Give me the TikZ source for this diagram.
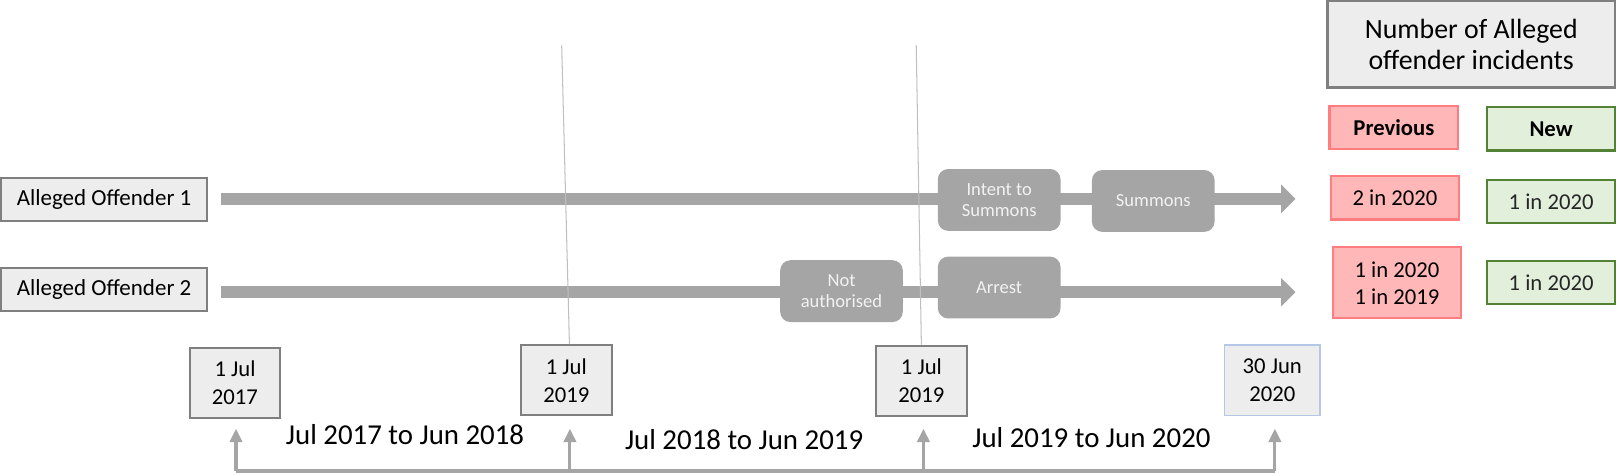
\documentclass[tikz,border=0pt]{standalone}
\usepackage{fontspec}
\setmainfont{Carlito}
\usetikzlibrary{arrows.meta}
\definecolor{tlgray}{HTML}{A5A5A5}
\definecolor{vline}{HTML}{BFBFBF}
\definecolor{boxfill}{HTML}{EDEDED}
\definecolor{boxborder}{HTML}{7F7F7F}
\definecolor{redfill}{HTML}{FFB7B7}
\definecolor{redborder}{HTML}{FF7C80}
\definecolor{greenfill}{HTML}{E2EFDA}
\definecolor{greenborder}{HTML}{548235}
\definecolor{blueborder}{HTML}{B4C7E7}
\definecolor{proctext}{HTML}{F2F2F2}
\begin{document}
\begin{tikzpicture}[x=1pt,y=-1pt,
  offbox/.style={draw=boxborder, fill=boxfill, line width=2pt, minimum width=200pt, minimum height=42pt, inner sep=0pt, font=\fontsize{22.3}{26}\selectfont},
  procbox/.style={fill=tlgray, rounded corners=10pt, text=proctext, minimum width=119pt, minimum height=60pt, inner sep=0pt, align=center, font=\fontsize{18}{21}\selectfont},
  datebox/.style={draw=boxborder, fill=boxfill, line width=2pt, minimum width=88pt, minimum height=68pt, inner sep=0pt, align=center, font=\fontsize{22}{27}\selectfont},
  periodlabel/.style={inner sep=0pt, font=\fontsize{28}{32}\selectfont},
  bigarrow/.style={draw=tlgray, line width=12pt, -{Triangle[length=14pt,width=27pt]}},
  thinline/.style={draw=vline, line width=1pt},
  bracket/.style={draw=tlgray, line width=3pt},
  uparrow/.style={draw=tlgray, line width=3pt, -{Triangle[length=13pt,width=12pt]}},
  titlebox/.style={draw=boxborder, fill=boxfill, line width=2.5pt, minimum width=279pt, minimum height=84pt, inner sep=0pt, align=center, font=\fontsize{27}{30}\selectfont},
  redbox/.style={draw=redborder, fill=redfill, line width=2pt, minimum width=125pt, minimum height=42pt, inner sep=0pt, align=center, font=\fontsize{22}{26}\selectfont},
  greenbox/.style={draw=greenborder, fill=greenfill, line width=2pt, minimum width=124pt, minimum height=42pt, inner sep=0pt, align=center, text=black!85, font=\fontsize{22}{26}\selectfont}
]
\useasboundingbox (0,0) rectangle (1568,460);

% offender labels
\node[offbox] (ao1) at (101,193.5) {Alleged Offender 1};
\node[offbox] (ao2) at (101,281) {Alleged Offender 2};

% arrow ends
\coordinate (e1) at (1257,193);
\coordinate (e2) at (1257,283.5);

% thick timelines
\draw[bigarrow] ([xshift=12pt]ao1.east |- e1) -- (e1);
\draw[bigarrow] ([xshift=12pt]ao2.east |- e2) -- (e2);

% date boxes
\node[datebox] (d1) at (228,371.5) {1 Jul\\2017};
\node[datebox] (d2) at (549.5,369) {1 Jul\\2019};
\node[datebox] (d3) at (894,369.5) {1 Jul\\2019};
\node[datebox, draw=blueborder, line width=1.5pt, minimum width=93pt] (d4) at (1234.5,369) {30 Jun\\2020};

% thin vertical lines
\coordinate (v1) at (545,44);
\coordinate (v2) at (889,44);
\draw[thinline] (v1) -- ([xshift=3pt]d2.north);
\draw[thinline] (v2) -- ([xshift=0pt]d3.north);

% process boxes
\node[procbox] (its) at (969.5,194) {Intent to\\Summons};
\node[procbox] (sum) at (1119,195) {Summons};
\node[procbox] (na) at (816.5,282.5) {Not\\authorised};
\node[procbox] (arr) at (969.5,279) {Arrest};

% period labels
\node[periodlabel] (p1) at (393,422) {Jul 2017 to Jun 2018};
\node[periodlabel] (p2) at (722,427) {Jul 2018 to Jun 2019};
\node[periodlabel] (p3) at (1059,425) {Jul 2019 to Jun 2020};

% bottom bracket
\coordinate (b1) at (229,457);
\coordinate (b2) at (553,457);
\coordinate (b3) at (896,457);
\coordinate (b4) at (1237,457);
\coordinate (t1) at (229,416);
\coordinate (t2) at (553,416);
\coordinate (t3) at (896,416);
\coordinate (t4) at (1237,416);
\draw[bracket] (b1) -- (b4);
\draw[uparrow] (b1) -- (t1);
\draw[uparrow] (b2) -- (t2);
\draw[uparrow] (b3) -- (t3);
\draw[uparrow] (b4) -- (t4);

% legend
\node[titlebox] (title) at (1427.5,43) {Number of Alleged\\offender incidents};
\node[redbox, font=\fontsize{22}{26}\selectfont\bfseries] (prev) at (1352.5,124) {Previous};
\node[greenbox, text=black, font=\fontsize{22}{26}\selectfont\bfseries] (new) at (1505,125) {New};
\node[redbox] (r1) at (1353.5,192) {2 in 2020};
\node[greenbox] (g1) at (1505,195.5) {1 in 2020};
\node[redbox, minimum height=69pt] (r2) at (1355.5,274.5) {1 in 2020\\1 in 2019};
\node[greenbox] (g2) at (1505,274) {1 in 2020};
\end{tikzpicture}
\end{document}
